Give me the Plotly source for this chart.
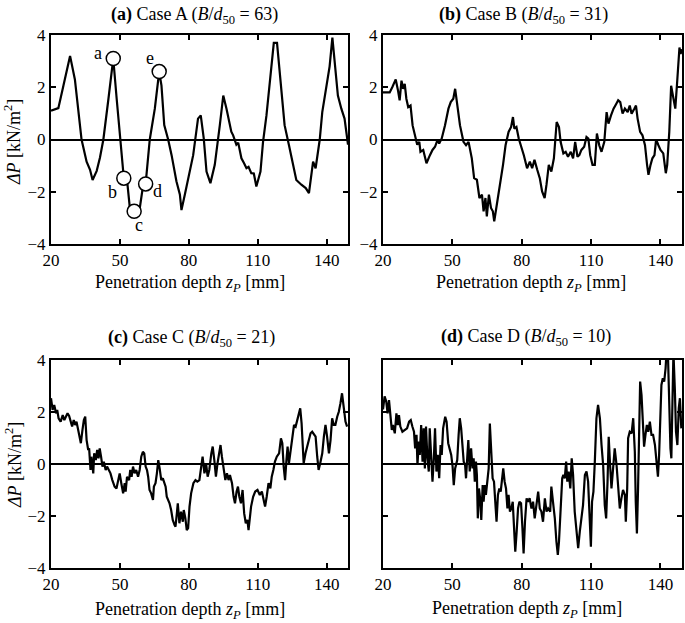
import plotly.graph_objects as go

# ---------------- data ----------------
z_a = [20, 23.2, 25.4, 28.3, 30.4, 31.9, 33.3, 35.5, 37, 38.1, 39.9, 41.3, 42.8, 45, 47.1,
       48.6, 50.3, 51.7, 53.3, 54.3, 56.2, 58.7, 60.1, 61.2, 63, 65.2, 67.1, 68.1, 69.3, 71,
       72.5, 74.6, 76.1, 76.8, 78.3, 79.7, 81.9, 84, 85.2, 86.5, 87.7, 89.4, 91.3, 93.5, 95,
       96.4, 97.8, 98.5, 99.3, 100.7, 101.5, 102.9, 104, 105.1, 106, 107.2, 108.3, 109.4, 111.2, 112.3,
       113.8, 115.5, 117, 118.4, 119.9, 121.7, 123.6, 125.4, 126.8, 129, 130.9, 132.3, 134.1, 135.2,
       137, 138.1, 139.6, 141.3, 142.5, 143.9, 144.9, 146.4, 147.8, 149.3]
dp_a = [1.1, 1.2, 2.06, 3.2, 2.3, 1.05, 0, -0.85, -1.16, -1.55, -1.2, -0.7, 0, 1.55, 3.1,
        1.55, 0, -1.48, -1.73, -2.6, -2.75, -2.6, -1.75, -1.7, 0, 1.18, 2.6, 2.06, 0.55, 0,
        -0.6, -1.6, -2.1, -2.7, -2.1, -1.5, -0.6, 0.8, 0.92, 0.04, -1.23, -1.67, -0.97, 0.55, 1.68,
        1.18, 0.67, 0.3, 0.16, -0.2, -0.12, -0.72, -0.9, -1.1, -1.05, -1.29, -1.3, -1.8, -1.23, -0.1,
        0.92, 2.3, 3.7, 3.7, 2.2, 0.55, -0.22, -0.97, -1.55, -1.73, -1.86, -2.05, -0.85, -1.1,
        0, 1.05, 1.8, 2.8, 3.9, 2.45, 1.68, 1.18, 0.8, -0.2]

pts_z = [47.1, 51.7, 56.2, 61.2, 67.1]
pts_dp = [3.1, -1.48, -2.75, -1.7, 2.6]
pts_lbl = ["a", "b", "c", "d", "e"]

z_b = [20, 22.9, 24, 25.5, 26.5, 27.2, 28, 28.7, 29.4, 30.1, 30.9, 31.9, 32.8, 33.8, 34.8, 35.7,
       36.2, 37.4, 38.8, 40.3, 41.4, 42.5, 43.5, 44.3, 45.4, 46.8, 48.3, 49.3, 50.4, 51.2, 52.2,
       53.3, 54.8, 55.9, 57, 58.4, 59.4, 60.6, 61.7, 62.8, 63.5, 64.3, 64.9, 65.8, 66.7, 67.5,
       68.1, 69.3, 70.4, 71.9, 73, 74.3, 75.4, 76.2, 76.8, 77.7, 78.7, 79.7, 80.9, 82.3, 83.5,
       84.5, 85.5, 86.7, 87.8, 88.8, 89.9, 90.7, 91.7, 92.8, 93.9, 95.1, 96.1, 96.8, 98, 99,
       100, 101.2, 102.2, 103.1, 104.1, 104.9, 105.8, 107, 108, 108.8, 109.6, 110.6, 111.6, 112.5,
       113.5, 114.5, 115.7, 116.7, 117.5, 118.6, 119.7, 120.9, 121.7, 122.6, 123.6, 124.6, 125.8,
       126.7, 127.5, 128.7, 129.4, 130.1, 131.2, 132.2, 133.3, 134.2, 134.8, 135.7, 136.5, 137.4,
       138.1, 139.1, 140, 141.2, 142.3, 142.9, 143.8, 144.6, 145.5, 146.4, 147.2, 147.8, 148.2,
       148.7, 149.2]
dp_b = [1.8, 1.8, 2.0, 2.3, 1.87, 1.5, 2.25, 1.94, 2.13, 1.56, 1.24, 1.3, 0.54, 0.16, -0.2, -0.09,
        -0.47, -0.4, -0.91, -0.6, -0.4, -0.28, -0.03, -0.15, 0.04, 0.54, 1.18, 1.43, 1.56, 1.94, 1.3,
        0.54, -0.09, -0.22, -0.09, -0.72, -1.48, -1.54, -2.24, -2.11, -2.75, -2.24, -2.94, -2.11, -2.62, -2.75,
        -3.13, -2.49, -1.86, -0.97, -0.22, 0.29, 0.48, 0.86, 0.42, 0.48, 0.04, -0.22, -0.6, -1.1, -0.85,
        -1.1, -0.78, -1.16, -1.48, -1.99, -2.24, -1.73, -0.97, -1.23, -0.72, 0.67, 0.48, -0.09, -0.53, -0.47,
        -0.66, -0.47, -0.72, -0.09, -0.66, -0.6, -0.4, -0.28, 0.1, 0.04, -0.6, -0.97, -0.97, 0.23,
        -0.22, -0.47, -0.09, 1.05, 0.61, 0.92, 1.18, 1.37, 1.5, 1.43, 0.99, 1.18, 1.05,
        1.3, 0.99, 1.18, 1.3, 0.8, 0.29, 0.16, -0.22, -0.97, -1.35, -0.97, -0.72, -0.6,
        0, -0.22, -0.4, -0.53, -1.29, -0.97, 0.29, 2.06, 1.56, 1.18, 2.19, 3.27, 3.52,
        3.27, 3.46]

z_c = [20, 20.7, 21.4, 22.2, 22.7, 23.3, 24.2, 25.1, 25.8, 26.5, 27.2, 27.9, 28.5, 29.2, 29.9,
       30.5, 31.1, 31.8, 32.6, 33, 33.7, 34.3, 34.9, 35.5, 36.2, 36.6, 37.2, 37.6, 38.4, 38.8,
       39.5, 40.1, 40.7, 41.2, 41.8, 42.4, 43, 43.8, 44.4, 45, 45.9, 46.7, 47.7, 48.5, 49.2,
       49.9, 50.6, 51.4, 52.1, 52.5, 53.1, 54, 54.5, 55.1, 55.7, 56.4, 57.1, 57.9, 58.6, 59.3,
       60, 60.6, 61.2, 61.8, 62.3, 62.9, 63.6, 64.4, 64.8, 65.5, 66.1, 66.7, 67.3, 68, 68.7,
       69.3, 69.9, 70.4, 71, 71.6, 72.3, 73, 73.8, 74.2, 74.8, 75.2, 75.9, 76.6, 77.4, 77.8,
       78.5, 79.1, 79.7, 80.3, 81, 82, 82.9, 83.7, 84.6, 85.3, 86, 86.8, 87.5, 88.2, 88.9,
       89.8, 90.4, 91.1, 91.8, 92.5, 93.3, 93.8, 94.4, 95.1, 95.9, 96.6, 97.3, 97.9, 98.8,
       99.5, 100.1, 100.8, 101.4, 102, 102.7, 103.4, 104.1, 104.8, 105.5, 106, 106.6, 107.1,
       108, 108.9, 109.9, 110.9, 111.8, 112.5, 113.2, 113.9, 114.7, 115.5, 116.1, 116.8,
       117.5, 118.3, 119.3, 120.1, 120.7, 121.3, 121.9, 122.5, 123, 123.6, 124.3, 125.1,
       125.8, 126.5, 127.2, 127.9, 128.5, 129.1, 130, 130.8, 131.6, 132.3, 133, 133.7, 134.6,
       135.2, 135.9, 136.5, 137.2, 138.1, 138.8, 139.5, 140.2, 141, 141.7, 142.4, 143.1,
       143.8, 144.6, 145.3, 146, 146.7, 147.5, 148.2, 148.9]
dp_c = [2.53, 2.08, 2.27, 1.95, 2.08, 1.76, 1.63, 1.88, 1.69, 1.82, 1.95, 1.85, 1.69, 1.44, 1.69,
        1.5, 1.63, 1.31, 1.05, 0.8, 1.31, 1.69, 1.82, 0.92, 0.54, 0.6, -0.23, 0.28, -0.36, 0.41,
        0.15, 0.54, 0.22, 0.6, 0.28, -0.1, 0.09, -0.23, -0.1, -0.23, -0.36, -0.62, -0.87, -0.94, -0.62,
        -0.36, -0.74, -1.13, -0.74, -1.06, -0.49, -0.62, -0.23, -0.49, -0.1, -0.36, -0.23, -0.49, -0.23, 0.28,
        0.47, 0.41, -0.1, -0.23, -0.49, -1.0, -1.13, -1.38, -0.87, -0.74, -0.36, 0.15, -0.17, -0.62, -0.55,
        -0.74, -0.87, -1.26, -1.38, -1.51, -1.77, -2.15, -2.35, -2.41, -1.9, -1.51, -2.28, -1.83, -2.22, -1.77,
        -2.09, -2.54, -2.47, -1.64, -1.13, -0.74, -0.62, -0.68, -0.62, -0.23, 0.28, -0.36, 0.03, -0.49, -0.23,
        0.41, 0.67, 0.15, -0.49, 0.03, 0.54, 0.73, 0.28, -0.1, -0.62, -0.36, -0.62, -0.42, -0.74,
        -1.26, -1.51, -1.06, -0.87, -1.26, -1.51, -1.0, -1.9, -2.28, -2.15, -2.54, -2.03, -1.64,
        -1.26, -1.06, -1.0, -1.19, -1.06, -1.38, -1.64, -1.26, -0.74, -0.94, -0.49, -0.23,
        0.09, 0.28, 0.41, 0.99, 0.8, -0.1, -0.62, 0.15, 0.67, 0.03, 0.54, 0.92,
        1.5, 1.44, 1.69, 1.95, 2.14, 1.56, 0.03, 0.41, 0.67, 0.92, 1.18, 1.24, 1.12,
        1.05, 0.28, -0.23, 0.03, 0.41, 1.05, 1.5, 1.05, 0.41, 0.92, 1.76, 1.5,
        1.5, 1.82, 2.01, 2.33, 2.72, 2.14, 1.63, 1.44]

z_d = [20, 20.3, 20.7, 21.4, 22, 22.6, 23.2, 23.8, 24.3, 25.1, 25.8, 26.4, 26.9, 27.5, 28.4,
       29.4, 30.4, 31.3, 32, 32.7, 33.4, 33.9, 34.5, 34.9, 35.5, 35.9, 36.5, 37.1, 37.6, 38.1,
       38.6, 39.2, 39.8, 40.2, 41, 41.4, 42, 42.5, 43.1, 43.7, 44.3, 44.9, 45.4, 46, 46.9,
       47.5, 48.2, 48.9, 49.5, 50.1, 50.6, 51.2, 52.1, 52.7, 53.2, 53.8, 54.4, 54.9, 55.5,
       55.9, 56.5, 56.9, 57.5, 58.1, 58.7, 59.2, 59.7, 60.2, 60.6, 61, 61.5, 62, 62.5, 63.1,
       63.5, 64.1, 64.5, 65.1, 65.7, 66.2, 66.8, 67.4, 68, 68.6, 69.1, 69.7, 70.3, 70.9, 71.4,
       72, 72.6, 73.2, 73.8, 74.3, 74.9, 75.5, 76.1, 76.6, 77.2, 77.8, 78.4, 79, 79.7, 80.3,
       80.8, 81.4, 82.1, 82.7, 83.4, 84.2, 84.9, 85.6, 86.4, 87.1, 87.8, 88.5, 89.2, 90,
       90.7, 91.4, 92.3, 92.8, 93.5, 94.3, 95, 95.6, 96.1, 96.7, 97.5, 98, 98.6, 99.2, 99.7,
       100.3, 101, 101.6, 102.2, 102.9, 103.6, 104.4, 105.1, 105.8, 106.5, 107.3, 108, 108.7,
       109.4, 109.9, 110.4, 111, 111.6, 112.3, 113, 113.8, 114.5, 115.2, 115.9, 116.5, 117.1,
       117.6, 118.2, 118.8, 119.5, 120.2, 121, 121.7, 122.4, 123.1, 123.8, 124.6, 125, 125.6,
       126, 126.7, 127.5, 128.2, 128.9, 129.3, 129.8, 130.3, 130.8, 131.2, 131.8, 132.4, 132.9,
       133.5, 134.1, 134.7, 135.4, 136.1, 136.8, 137.6, 138.3, 138.9, 139.4, 140, 140.4, 141,
       141.6, 142.2, 142.6, 143.2, 143.7, 144.3, 144.7, 145.2, 145.6, 146.2, 146.7, 147.3,
       147.9, 148.4, 149]
dp_d = [2.1, 2.27, 2.6, 2.4, 1.95, 2.46, 1.88, 1.31, 1.5, 1.18, 1.95, 1.5, 1.88, 1.44, 1.24,
        1.31, 1.37, 1.63, 1.69, 1.44, 1.24, 0.6, 1.12, -0.04, 0.86, 0.35, 1.5, 0.09, 1.37, -0.17,
        1.44, 0.22, -0.29, 1.37, -0.04, -0.68, 0.22, 1.37, -0.29, 0.35, -0.55, 0.73, 0.35, 1.37, 1.82,
        1.63, 0.8, 0.6, 0.35, -0.1, -0.81, -0.17, 0.15, 1.12, 1.76, 1.37, 0.47, 0.09, -0.04,
        -0.55, 0.35, 0.92, -0.29, 0.6, -0.17, 0.22, -0.68, 0.09, -0.42, -2.09, -0.94, -1.32, -2.15, -0.81,
        -1.45, -0.81, -1.19, -0.68, -0.17, 1.56, 0.22, -0.55, -0.68, -1.45, -2.22, -1.19, -0.94, -1.06, -0.68,
        -0.17, -0.68, -0.94, -1.71, -1.19, -1.83, -1.71, -1.45, -2.47, -3.37, -2.6, -1.71, -1.45, -1.51, -2.47,
        -3.44, -2.22, -1.32, -1.45, -1.32, -1.71, -1.45, -2.09, -1.45, -1.06, -1.71, -1.83, -2.22, -1.32,
        -1.83, -1.71, -1.83, -0.87, -1.45, -2.09, -2.99, -3.5, -2.99, -1.96, -0.55, -0.42, -0.55, 0.09, -0.68,
        -0.29, -0.94, 0.22, -0.42, -1.83, -2.6, -3.24, -2.6, -2.09, -1.58, -0.42, -0.29, -0.68,
        -2.47, -3.18, -1.45, -1.06, 0.09, 1.76, 2.27, 1.76, 0.73, -0.04, -1.58, -2.09, -0.68,
        1.05, -0.04, -0.94, -0.17, 0.6, -0.04, -1.06, -1.71, -1.32, -1.0, -1.19, -2.22, -0.94,
        0.99, 1.24, 1.18, 1.76, 0.47, -1.45, -2.67, -0.94, 1.63, 3.17, 2.65, 1.24, 0.67,
        1.12, 1.5, 1.24, 1.63, 1.12, 1.12, 0.73, 0.09, -0.49, 0.35, 1.88, 3.04, 3.3,
        3.17, 3.68, 4.3, 4.3, 2.27, 0.6, 0.22, 2.27, 4.3, 2.9, 1.24, 0.73,
        2.14, 2.53, 1.37]

x_ticks = [20, 50, 80, 110, 140]
y_ticks = [-4, -2, 0, 2, 4]
titles = ["<b>(a)</b> Case A (<i>B</i>/<i>d</i><sub>50</sub> = 63)",
          "<b>(b)</b> Case B (<i>B</i>/<i>d</i><sub>50</sub> = 31)",
          "<b>(c)</b> Case C (<i>B</i>/<i>d</i><sub>50</sub> = 21)",
          "<b>(d)</b> Case D (<i>B</i>/<i>d</i><sub>50</sub> = 10)"]
x_title = "Penetration depth <i>z<sub>P</sub></i> [mm]"
y_title = "<i>ΔP</i> [kN/m<sup>2</sup>]"

# ---------------- layout geometry ----------------
W, H = 685, 623
FONT = "Liberation Serif"
# pixel boxes (left, right, top, bottom)
boxes = [(51, 348, 35, 244), (383, 682, 35, 244), (51, 348, 360, 568), (383, 682, 360, 568)]

fig = go.Figure()
series = [(z_a, dp_a), (z_b, dp_b), (z_c, dp_c), (z_d, dp_d)]
for i, (zz, dd) in enumerate(series):
    sfx = "" if i == 0 else str(i + 1)
    fig.add_trace(go.Scatter(x=zz, y=dd, mode="lines", line=dict(color="black", width=2.2),
                             xaxis="x" + sfx, yaxis="y" + sfx, showlegend=False, hoverinfo="skip"))

fig.add_trace(go.Scatter(x=pts_z, y=pts_dp, mode="markers",
                         marker=dict(size=14, color="white", line=dict(color="black", width=1.5)),
                         xaxis="x", yaxis="y", showlegend=False, hoverinfo="skip", cliponaxis=False))

lbl_shift = [(-15, 6), (-11, -14), (5, -14), (12, -7), (-9, 14)]
annotations = []
for (xx, yy, tt, (dx, dy)) in zip(pts_z, pts_dp, pts_lbl, lbl_shift):
    annotations.append(dict(x=xx, y=yy, xref="x", yref="y", text=tt, showarrow=False,
                            xshift=dx, yshift=dy, font=dict(family=FONT, size=18, color="black")))

title_pos = [(194, 15), (523, 15), (191, 338), (526, 337)]
xt_pos = [(190, 283), (531, 283), (190, 610), (527, 609)]
yt_pos = [(13, 142), (13, 465)]

for t, (px, py) in zip(titles, title_pos):
    annotations.append(dict(x=px / W, y=1 - py / H, xref="paper", yref="paper", text=t,
                            showarrow=False, xanchor="center", yanchor="middle",
                            font=dict(family=FONT, size=18, color="black")))
for (px, py) in xt_pos:
    annotations.append(dict(x=px / W, y=1 - py / H, xref="paper", yref="paper", text=x_title,
                            showarrow=False, xanchor="center", yanchor="middle",
                            font=dict(family=FONT, size=18, color="black")))
for (px, py) in yt_pos:
    annotations.append(dict(x=px / W, y=1 - py / H, xref="paper", yref="paper", text=y_title,
                            showarrow=False, xanchor="center", yanchor="middle", textangle=-90,
                            font=dict(family=FONT, size=18, color="black")))

layout = dict(width=W, height=H, margin=dict(l=0, r=0, t=0, b=0, autoexpand=False),
              paper_bgcolor="white", plot_bgcolor="white",
              font=dict(family=FONT, size=17, color="black"),
              annotations=annotations)
for i, (l, r, t, b) in enumerate(boxes):
    sfx = "" if i == 0 else str(i + 1)
    layout["xaxis" + sfx] = dict(domain=[l / W, r / W], range=[20, 149.3], tickvals=x_ticks,
                                 ticks="inside", ticklen=5, tickwidth=1.5, tickcolor="black",
                                 showline=True, linecolor="black", linewidth=2, mirror="ticks",
                                 showgrid=False, zeroline=False, anchor="y" + sfx, automargin=False,
                                 tickfont=dict(family=FONT, size=17, color="black"))
    layout["yaxis" + sfx] = dict(domain=[1 - b / H, 1 - t / H], range=[-4, 4], tickvals=y_ticks,
                                 ticks="inside", ticklen=5, tickwidth=1.5, tickcolor="black",
                                 showline=True, linecolor="black", linewidth=2, mirror="ticks",
                                 showgrid=False, zeroline=True, zerolinecolor="black",
                                 zerolinewidth=1.5, anchor="x" + sfx, automargin=False,
                                 showticklabels=(i != 3),
                                 tickfont=dict(family=FONT, size=17, color="black"))
fig.update_layout(**layout)
fig.write_html("out.html", config={"displayModeBar": False},
               post_script="document.body.style.margin='0';document.body.style.padding='0';")
